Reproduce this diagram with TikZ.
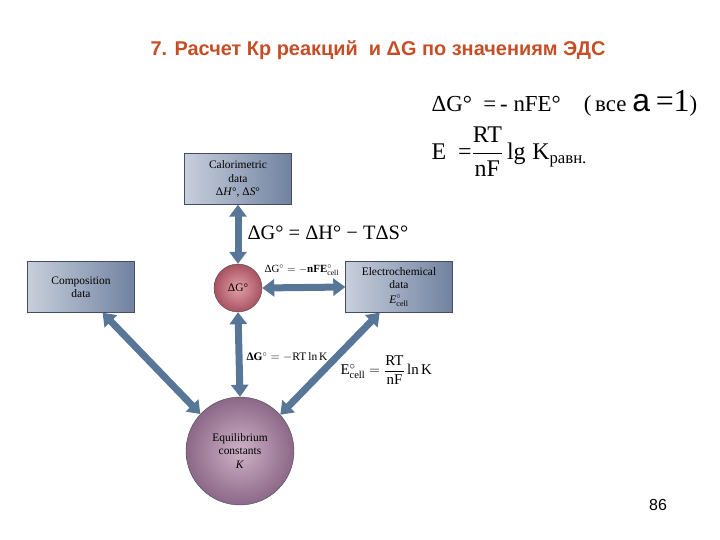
\documentclass[tikz,border=0pt]{standalone}
\usepackage{amsmath}
\usepackage{fontspec}
\setmainfont{Liberation Serif}
\newfontfamily\sansfont{Liberation Sans}
\usetikzlibrary{arrows.meta}
\definecolor{titlered}{RGB}{198,78,38}
\definecolor{arrowblue}{RGB}{88,118,152}
\definecolor{boxlight}{RGB}{200,207,220}
\definecolor{boxdark}{RGB}{112,130,160}
\definecolor{gin}{RGB}{226,160,168}
\definecolor{gout}{RGB}{168,82,96}
\definecolor{kin}{RGB}{206,178,198}
\definecolor{kout}{RGB}{140,104,136}
\tikzset{
  databox/.style={draw=boxdark!60!black, left color=boxlight, right color=boxdark,
    minimum width=107bp, minimum height=51bp, align=center, inner sep=0pt,
    font=\fontsize{11.5}{13.5}\selectfont},
  ballnode/.style={circle, draw=black!70, inner sep=0pt, align=center,
    font=\fontsize{11.5}{13.5}\selectfont},
  bigarrow/.style={draw=arrowblue, line width=7bp,
    {Triangle[width=17bp,length=12bp]}-{Triangle[width=17bp,length=12bp]}},
}
\begin{document}
\begin{tikzpicture}[x=1bp,y=-1bp]
    \useasboundingbox (0,0) rectangle (720,540);
    % title
    \node[text=titlered, font=\sansfont\bfseries\fontsize{20}{24}\selectfont] (title) at (378,50)
        {7. Расчет Кр реакций \ и ΔG по значениям ЭДС};
    % formulas top right
    \node[anchor=west, font=\fontsize{23}{27}\selectfont] (eqone) at (428,103)
        {ΔG°\ \ =\,-\ nFE°\quad (\,все {\sansfont\fontsize{32}{34}\selectfont a} {\fontsize{32}{34}\selectfont =1})};
    \node[anchor=west, font=\fontsize{24}{28}\selectfont] (eqtwo) at (428,152)
        {E\ \ =$\dfrac{\text{RT}}{\text{nF}}$\,lg\;K\textsubscript{равн.}};
    % scheme
    \node[databox] (calor) at (238,179) {Calorimetric\\data\\Δ\textit{H}°, Δ\textit{S}°};
    \node[databox] (compos) at (81,287) {Composition\\data};
    \node[databox] (electro) at (399,287) {Electrochemical\\data\\[1pt]$\textit{E}^{\circ}_{\text{cell}}$};
    \node[ballnode, minimum size=48bp, inner color=gin, outer color=gout] (dG) at (238,288) {ΔG°};
    \node[ballnode, minimum size=108bp, inner color=kin, outer color=kout] (eqK) at (240,451)
        {Equilibrium\\constants\\\textit{K}};
    \draw[bigarrow] (calor.south) -- (dG.north);
    \draw[bigarrow] (dG.east) -- (electro.west);
    \draw[bigarrow] (dG.south) -- (eqK.north);
    \draw[bigarrow] (compos.-50) -- (eqK.137);
    \draw[bigarrow] (electro.-127) -- (eqK.42);
    % relations
    \node[anchor=west, font=\fontsize{20.5}{24}\selectfont] (gibbs) at (244,233)
        {ΔG° = ΔH° − TΔS°};
    \node[anchor=west, font=\fontsize{11}{13}\selectfont] (dgnfe) at (261,270)
        {$\text{ΔG}^{\circ} = -\textbf{nFE}^{\circ}_{\text{cell}}$};
    \node[anchor=west, font=\fontsize{11.5}{13}\selectfont] (dgrt) at (243,357)
        {$\textbf{ΔG}^{\circ} = -\text{RT}\,\text{ln}\,\text{K}$};
    \node[anchor=west, font=\fontsize{15}{17}\selectfont] (ecell) at (337,370)
        {$\text{E}^{\circ}_{\text{cell}} = \dfrac{\text{RT}}{\text{nF}}\,\text{ln}\,\text{K}$};
    % page number
    \node[font=\sansfont\fontsize{16}{18}\selectfont] (page) at (658,505) {86};
\end{tikzpicture}
\end{document}
